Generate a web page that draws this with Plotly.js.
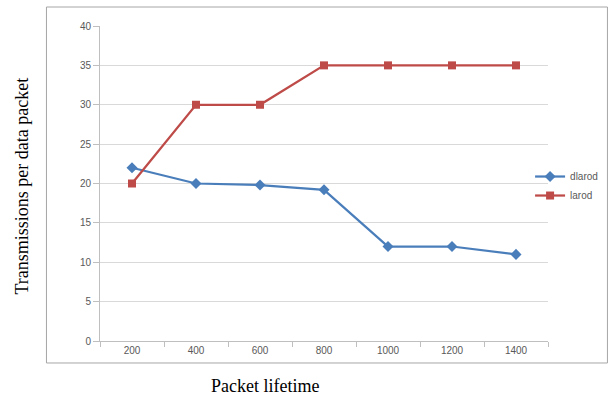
<!DOCTYPE html>
<html>
<head>
<meta charset="utf-8">
<script src="https://cdn.plot.ly/plotly-3.0.1.min.js"></script>
<style>html,body{margin:0;padding:0;background:#fff;}#chart{width:615px;height:399px;}</style>
</head>
<body>
<div id="chart"></div>
<script>
const categories = ["200", "400", "600", "800", "1000", "1200", "1400"];
const dlarod = [22, 20, 19.8, 19.2, 12, 12, 11];
const larod = [20, 30, 30, 35, 35, 35, 35];
const yTicks = [0, 5, 10, 15, 20, 25, 30, 35, 40];

const traces = [
  {
    x: categories, y: dlarod, name: "dlarod", type: "scatter", mode: "lines+markers",
    line: {color: "#4A7EBB", width: 2.25},
    marker: {symbol: "diamond", size: 8.5, color: "#4A7EBB"}
  },
  {
    x: categories, y: larod, name: "larod", type: "scatter", mode: "lines+markers",
    line: {color: "#BE4B48", width: 2.25},
    marker: {symbol: "square", size: 8, color: "#BE4B48"}
  }
];

const tickFont = {family: "Liberation Sans, Arial, sans-serif", size: 10, color: "#595959"};

const layout = {
  width: 615, height: 399,
  margin: {l: 100, r: 63, t: 26, b: 58},
  paper_bgcolor: "#ffffff", plot_bgcolor: "#ffffff",
  showlegend: true,
  legend: {
    x: 0.96, xanchor: "left", y: 0.492, yanchor: "middle",
    font: tickFont, itemwidth: 30, tracegroupgap: 0,
    bgcolor: "rgba(0,0,0,0)"
  },
  xaxis: {
    type: "category", categoryorder: "array", categoryarray: categories,
    tickfont: tickFont, showgrid: false, zeroline: false,
    showline: true, linecolor: "#bfbfbf", linewidth: 1,
    ticks: "outside", ticklen: 5, tickcolor: "#bfbfbf", tickson: "boundaries",
    range: [-0.5, 6.5]
  },
  yaxis: {
    range: [0, 40], tickvals: yTicks, ticktext: yTicks.map(String),
    tickfont: tickFont, showgrid: true, gridcolor: "#d9d9d9", gridwidth: 1,
    zeroline: false, showline: true, linecolor: "#bfbfbf", linewidth: 1,
    ticks: "outside", ticklen: 6, tickcolor: "#bfbfbf"
  },
  shapes: [{
    type: "rect", xref: "paper", yref: "paper",
    x0: -0.1195, x1: 1.1327, y0: -0.0698, y1: 1.0603,
    line: {color: "#a6a6a6", width: 1}, fillcolor: "rgba(0,0,0,0)", layer: "below"
  }],
  annotations: [
    {
      text: "Packet lifetime", xref: "paper", yref: "paper",
      x: 0.369, y: -0.143, xanchor: "center", yanchor: "middle", showarrow: false,
      font: {family: "Liberation Serif, Times New Roman, serif", size: 18, color: "#000"}
    },
    {
      text: "Transmissions per data packet", xref: "paper", yref: "paper",
      x: -0.173, y: 0.492, xanchor: "center", yanchor: "middle", showarrow: false,
      textangle: -90,
      font: {family: "Liberation Serif, Times New Roman, serif", size: 18, color: "#000"}
    }
  ]
};

Plotly.newPlot("chart", traces, layout, {displayModeBar: false, staticPlot: true});
</script>
</body>
</html>
